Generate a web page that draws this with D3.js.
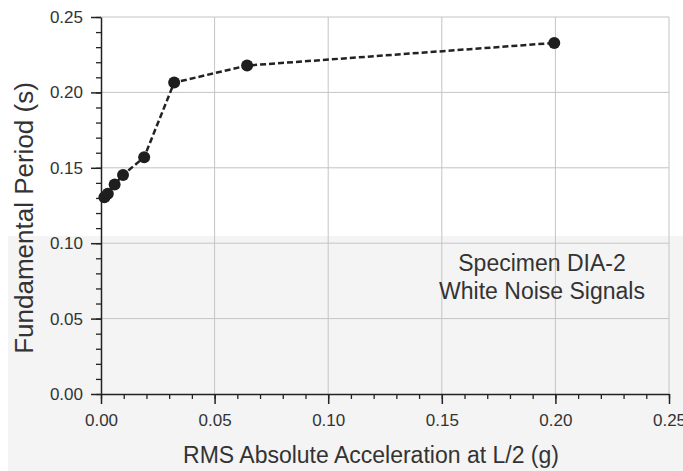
<!DOCTYPE html>
<html>
<head>
<meta charset="utf-8">
<script src="https://cdn.jsdelivr.net/npm/d3@7"></script>
<style>
  body { margin: 0; background: #fff; }
  text { font-family: "Liberation Sans", Arial, sans-serif; fill: #333; }
</style>
</head>
<body>
<div id="chart"></div>
<script>
/*************************************/
/* Data                              */
/*************************************/

// RMS absolute acceleration at L/2 (g)
const accel = [0.0015, 0.003, 0.006, 0.0097, 0.019, 0.0322, 0.0643, 0.1995];
// Fundamental period (s)
const period = [0.1305, 0.1328, 0.139, 0.1453, 0.157, 0.2065, 0.2178, 0.2328];

const xTicks = [0, 0.05, 0.10, 0.15, 0.20, 0.25];
const yTicks = [0, 0.05, 0.10, 0.15, 0.20, 0.25];
const noteLines = ['Specimen DIA-2', 'White Noise Signals'];

/*************************************/
/* Layout                            */
/*************************************/

const width = 683;
const height = 471;
const margin = { top: 17, right: 14, bottom: 77, left: 101 };

const svg = d3.select('#chart')
  .append('svg')
  .attr('width', width)
  .attr('height', height);

// light grey background patch from the scan
svg.append('rect')
  .attr('x', 8).attr('y', 236)
  .attr('width', width - 8).attr('height', height - 236)
  .attr('fill', '#f4f4f4');

const x = d3.scaleLinear().domain([0, 0.25]).range([margin.left, width - margin.right]);
const y = d3.scaleLinear().domain([0, 0.25]).range([height - margin.bottom, margin.top]);

/*************************************/
/* Grid                              */
/*************************************/

svg.append('g')
  .attr('stroke', '#c4c4c4')
  .attr('stroke-width', 1)
  .selectAll('line.gx')
  .data(xTicks.slice(1))
  .join('line')
    .attr('x1', d => x(d)).attr('x2', d => x(d))
    .attr('y1', y(0)).attr('y2', y(0.25));

svg.append('g')
  .attr('stroke', '#c4c4c4')
  .attr('stroke-width', 1)
  .selectAll('line.gy')
  .data(yTicks.slice(1))
  .join('line')
    .attr('x1', x(0)).attr('x2', x(0.25))
    .attr('y1', d => y(d)).attr('y2', d => y(d));

/*************************************/
/* Axes                              */
/*************************************/

const fmt = d3.format('.2f');
const minor = d3.range(0, 0.2501, 0.01);

// minor ticks
svg.append('g')
  .attr('transform', `translate(0,${y(0)})`)
  .call(d3.axisBottom(x).tickValues(minor).tickSize(5).tickFormat(''))
  .call(g => g.selectAll('line').attr('stroke', '#222').attr('stroke-width', 1.3))
  .call(g => g.select('.domain').remove());

svg.append('g')
  .attr('transform', `translate(${x(0)},0)`)
  .call(d3.axisLeft(y).tickValues(minor).tickSize(5).tickFormat(''))
  .call(g => g.selectAll('line').attr('stroke', '#222').attr('stroke-width', 1.3))
  .call(g => g.select('.domain').remove());

// major ticks + labels
svg.append('g')
  .attr('transform', `translate(0,${y(0)})`)
  .call(d3.axisBottom(x).tickValues(xTicks).tickSize(10).tickSizeOuter(0).tickPadding(10).tickFormat(fmt))
  .call(g => g.select('.domain').attr('stroke', '#222').attr('stroke-width', 1.5))
  .call(g => g.selectAll('line').attr('stroke', '#222').attr('stroke-width', 1.5))
  .call(g => g.selectAll('text').attr('font-size', 17).attr('fill', '#333'));

svg.append('g')
  .attr('transform', `translate(${x(0)},0)`)
  .call(d3.axisLeft(y).tickValues(yTicks).tickSize(10).tickSizeOuter(0).tickPadding(8).tickFormat(fmt))
  .call(g => g.select('.domain').attr('stroke', '#222').attr('stroke-width', 1.5))
  .call(g => g.selectAll('line').attr('stroke', '#222').attr('stroke-width', 1.5))
  .call(g => g.selectAll('text').attr('font-size', 17).attr('fill', '#333'));

// axis titles
svg.append('text')
  .attr('x', 371)
  .attr('y', 463)
  .attr('text-anchor', 'middle')
  .attr('font-size', 23)
  .text('RMS Absolute Acceleration at L/2 (g)');

svg.append('text')
  .attr('transform', `translate(33,218) rotate(-90)`)
  .attr('text-anchor', 'middle')
  .attr('font-size', 26)
  .text('Fundamental Period (s)');

/*************************************/
/* Series                            */
/*************************************/

const pts = accel.map((a, i) => [a, period[i]]);

svg.append('path')
  .datum(pts)
  .attr('fill', 'none')
  .attr('stroke', '#222')
  .attr('stroke-width', 2.5)
  .attr('stroke-dasharray', '6,3')
  .attr('d', d3.line().x(d => x(d[0])).y(d => y(d[1])));

svg.append('g')
  .selectAll('circle')
  .data(pts)
  .join('circle')
    .attr('cx', d => x(d[0]))
    .attr('cy', d => y(d[1]))
    .attr('r', 6)
    .attr('fill', '#1e1e1e');

/*************************************/
/* Annotation                        */
/*************************************/

svg.append('text')
  .attr('x', 542)
  .attr('y', 271)
  .attr('text-anchor', 'middle')
  .attr('font-size', 23)
  .selectAll('tspan')
  .data(noteLines)
  .join('tspan')
    .attr('x', 542)
    .attr('dy', (d, i) => i === 0 ? 0 : 28)
    .text(d => d);
</script>
</body>
</html>
